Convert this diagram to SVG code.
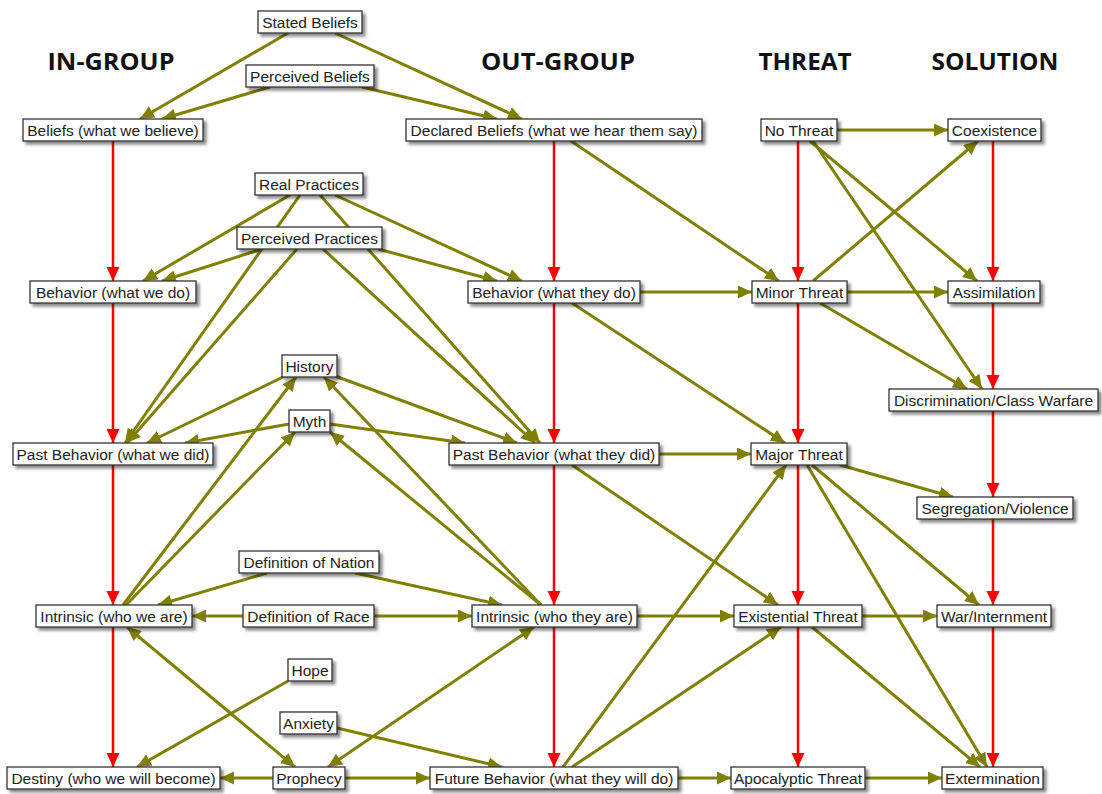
<svg xmlns="http://www.w3.org/2000/svg" width="1102" height="794" viewBox="0 0 1102 794">
<style>
.hdr{font-family:"Open Sans","Liberation Sans",Arial,sans-serif;font-weight:bold;font-size:23px;fill:#111;text-anchor:middle}
.box{fill:#fff;stroke:#333;stroke-width:1.3;filter:url(#sh)}
.lbl{font-family:"Liberation Sans",Arial,sans-serif;font-size:15.5px;fill:#222;text-anchor:middle}
.o{stroke:#808000;stroke-width:3;fill:none;marker-end:url(#ao)}
.ob{stroke:#808000;stroke-width:3;fill:none;marker-end:url(#ao);marker-start:url(#aos)}
.r{stroke:#ff0000;stroke-width:2.5;fill:none;marker-end:url(#ar)}
</style>
<defs>
<filter id="sh" x="-20%" y="-40%" width="140%" height="200%">
<feDropShadow dx="3" dy="3" stdDeviation="1.8" flood-color="#000" flood-opacity="0.45"/>
</filter>
<marker id="ao" markerUnits="userSpaceOnUse" markerWidth="16" markerHeight="14" refX="14" refY="6.5" orient="auto">
<path d="M0,0 L14,6.5 L0,13 z" fill="#808000"/>
</marker>
<marker id="aos" markerUnits="userSpaceOnUse" markerWidth="16" markerHeight="14" refX="0" refY="6.5" orient="auto">
<path d="M14,0 L0,6.5 L14,13 z" fill="#808000"/>
</marker>
<marker id="ar" markerUnits="userSpaceOnUse" markerWidth="16" markerHeight="14" refX="14" refY="6.5" orient="auto">
<path d="M0,0 L14,6.5 L0,13 z" fill="#ff0000"/>
</marker>
</defs>
<rect width="1102" height="794" fill="#fff"/>

<g id="headers">
<text class="hdr" x="111" y="70" textLength="127" lengthAdjust="spacingAndGlyphs">IN-GROUP</text>
<text class="hdr" x="558" y="70" textLength="154" lengthAdjust="spacingAndGlyphs">OUT-GROUP</text>
<text class="hdr" x="805" y="70" textLength="93" lengthAdjust="spacingAndGlyphs">THREAT</text>
<text class="hdr" x="995" y="70" textLength="127" lengthAdjust="spacingAndGlyphs">SOLUTION</text>
</g>

<g id="connectors">
<line class="r" x1="113" y1="141" x2="113" y2="281"/>
<line class="r" x1="113" y1="303" x2="113" y2="443"/>
<line class="r" x1="113" y1="465" x2="113" y2="605"/>
<line class="r" x1="113" y1="627" x2="113" y2="767"/>
<line class="r" x1="554" y1="141" x2="554" y2="281"/>
<line class="r" x1="554" y1="303" x2="554" y2="443"/>
<line class="r" x1="554" y1="465" x2="554" y2="605"/>
<line class="r" x1="554" y1="627" x2="554" y2="767"/>
<line class="r" x1="798" y1="141" x2="798" y2="281"/>
<line class="r" x1="798" y1="303" x2="798" y2="443"/>
<line class="r" x1="798" y1="465" x2="798" y2="605"/>
<line class="r" x1="798" y1="627" x2="798" y2="767"/>
<line class="r" x1="993" y1="141" x2="993" y2="281"/>
<line class="r" x1="993" y1="303" x2="993" y2="389"/>
<line class="r" x1="993" y1="411" x2="993" y2="497"/>
<line class="r" x1="993" y1="519" x2="993" y2="605"/>
<line class="r" x1="993" y1="627" x2="993" y2="767"/>
<line class="o" x1="288" y1="33" x2="140" y2="119"/>
<line class="o" x1="335" y1="33" x2="522" y2="119"/>
<line class="o" x1="270" y1="87" x2="162" y2="119"/>
<line class="o" x1="362" y1="87" x2="497" y2="119"/>
<line class="o" x1="290" y1="195" x2="143" y2="281"/>
<line class="o" x1="262" y1="249" x2="162" y2="281"/>
<line class="o" x1="335" y1="195" x2="522" y2="281"/>
<line class="o" x1="378" y1="249" x2="497" y2="281"/>
<line class="o" x1="300" y1="195" x2="125" y2="443"/>
<line class="o" x1="297" y1="249" x2="127" y2="443"/>
<line class="o" x1="320" y1="195" x2="540" y2="443"/>
<line class="o" x1="323" y1="249" x2="535" y2="443"/>
<line class="o" x1="285" y1="376" x2="147" y2="443"/>
<line class="o" x1="335" y1="376" x2="517" y2="443"/>
<line class="o" x1="289" y1="424" x2="185" y2="443"/>
<line class="o" x1="330" y1="424" x2="465" y2="443"/>
<line class="o" x1="123" y1="605" x2="296" y2="377"/>
<line class="o" x1="126" y1="605" x2="295" y2="432"/>
<line class="o" x1="541" y1="605" x2="324" y2="377"/>
<line class="o" x1="541" y1="605" x2="330" y2="432"/>
<line class="o" x1="267" y1="573" x2="158" y2="605"/>
<line class="o" x1="355" y1="573" x2="502" y2="605"/>
<line class="o" x1="243" y1="616" x2="192" y2="616"/>
<line class="o" x1="374" y1="616" x2="472" y2="616"/>
<line class="ob" x1="127" y1="627" x2="295" y2="767"/>
<line class="o" x1="288" y1="681" x2="137" y2="767"/>
<line class="o" x1="337" y1="728" x2="502" y2="767"/>
<line class="ob" x1="328" y1="767" x2="534" y2="627"/>
<line class="o" x1="273" y1="778" x2="220" y2="778"/>
<line class="o" x1="345" y1="778" x2="430" y2="778"/>
<line class="o" x1="563" y1="767" x2="786" y2="465"/>
<line class="o" x1="572" y1="767" x2="781" y2="627"/>
<line class="o" x1="678" y1="778" x2="731" y2="778"/>
<line class="o" x1="571" y1="141" x2="779" y2="281"/>
<line class="o" x1="640" y1="292" x2="752" y2="292"/>
<line class="o" x1="572" y1="303" x2="785" y2="443"/>
<line class="o" x1="659" y1="454" x2="751" y2="454"/>
<line class="o" x1="572" y1="465" x2="778" y2="605"/>
<line class="o" x1="637" y1="616" x2="734" y2="616"/>
<line class="o" x1="837" y1="130" x2="948" y2="130"/>
<line class="o" x1="810" y1="141" x2="977" y2="281"/>
<line class="o" x1="813" y1="141" x2="982" y2="389"/>
<line class="o" x1="813" y1="281" x2="978" y2="141"/>
<line class="o" x1="847" y1="292" x2="948" y2="292"/>
<line class="o" x1="820" y1="303" x2="967" y2="389"/>
<line class="o" x1="840" y1="465" x2="953" y2="497"/>
<line class="o" x1="812" y1="465" x2="979" y2="605"/>
<line class="o" x1="807" y1="465" x2="987" y2="767"/>
<line class="o" x1="862" y1="616" x2="937" y2="616"/>
<line class="o" x1="812" y1="627" x2="980" y2="767"/>
<line class="o" x1="865" y1="778" x2="942" y2="778"/>
</g>

<g id="n-stated"><rect class="box" x="258" y="11" width="104" height="22"/><text class="lbl" x="310" y="27.5">Stated Beliefs</text></g>
<g id="n-perceived-beliefs"><rect class="box" x="246" y="65" width="128" height="22"/><text class="lbl" x="310" y="81.5">Perceived Beliefs</text></g>
<g id="n-beliefs-we"><rect class="box" x="23" y="119" width="180" height="22"/><text class="lbl" x="113" y="135.5">Beliefs (what we believe)</text></g>
<g id="n-declared"><rect class="box" x="406" y="119" width="296" height="22"/><text class="lbl" x="554" y="135.5">Declared Beliefs (what we hear them say)</text></g>
<g id="n-no-threat"><rect class="box" x="761" y="119" width="76" height="22"/><text class="lbl" x="799" y="135.5">No Threat</text></g>
<g id="n-coexistence"><rect class="box" x="948" y="119" width="93" height="22"/><text class="lbl" x="994.5" y="135.5">Coexistence</text></g>
<g id="n-real-practices"><rect class="box" x="255" y="173" width="108" height="22"/><text class="lbl" x="309" y="189.5">Real Practices</text></g>
<g id="n-perceived-practices"><rect class="box" x="237" y="227" width="145" height="22"/><text class="lbl" x="309.5" y="243.5">Perceived Practices</text></g>
<g id="n-behavior-we"><rect class="box" x="30" y="281" width="166" height="22"/><text class="lbl" x="113" y="297.5">Behavior (what we do)</text></g>
<g id="n-behavior-they"><rect class="box" x="468" y="281" width="172" height="22"/><text class="lbl" x="554" y="297.5">Behavior (what they do)</text></g>
<g id="n-minor"><rect class="box" x="752" y="281" width="95" height="22"/><text class="lbl" x="799.5" y="297.5">Minor Threat</text></g>
<g id="n-assimilation"><rect class="box" x="948" y="281" width="92" height="22"/><text class="lbl" x="994" y="297.5">Assimilation</text></g>
<g id="n-history"><rect class="box" x="282" y="355" width="55" height="22"/><text class="lbl" x="309.5" y="371.5">History</text></g>
<g id="n-discrimination"><rect class="box" x="889" y="389" width="209" height="22"/><text class="lbl" x="993.5" y="405.5">Discrimination/Class Warfare</text></g>
<g id="n-myth"><rect class="box" x="289" y="410" width="41" height="22"/><text class="lbl" x="309.5" y="426.5">Myth</text></g>
<g id="n-past-we"><rect class="box" x="13" y="443" width="200" height="22"/><text class="lbl" x="113" y="459.5">Past Behavior (what we did)</text></g>
<g id="n-past-they"><rect class="box" x="449" y="443" width="210" height="22"/><text class="lbl" x="554" y="459.5">Past Behavior (what they did)</text></g>
<g id="n-major"><rect class="box" x="751" y="443" width="96" height="22"/><text class="lbl" x="799" y="459.5">Major Threat</text></g>
<g id="n-segregation"><rect class="box" x="917" y="497" width="156" height="22"/><text class="lbl" x="995" y="513.5">Segregation/Violence</text></g>
<g id="n-def-nation"><rect class="box" x="239" y="551" width="140" height="22"/><text class="lbl" x="309" y="567.5">Definition of Nation</text></g>
<g id="n-intrinsic-we"><rect class="box" x="36" y="605" width="156" height="22"/><text class="lbl" x="114" y="621.5">Intrinsic (who we are)</text></g>
<g id="n-def-race"><rect class="box" x="243" y="605" width="131" height="22"/><text class="lbl" x="308.5" y="621.5">Definition of Race</text></g>
<g id="n-intrinsic-they"><rect class="box" x="472" y="605" width="165" height="22"/><text class="lbl" x="554.5" y="621.5">Intrinsic (who they are)</text></g>
<g id="n-existential"><rect class="box" x="734" y="605" width="128" height="22"/><text class="lbl" x="798" y="621.5">Existential Threat</text></g>
<g id="n-war"><rect class="box" x="937" y="605" width="114" height="22"/><text class="lbl" x="994" y="621.5">War/Internment</text></g>
<g id="n-hope"><rect class="box" x="288" y="659" width="44" height="22"/><text class="lbl" x="310" y="675.5">Hope</text></g>
<g id="n-anxiety"><rect class="box" x="280" y="712" width="57" height="22"/><text class="lbl" x="308.5" y="728.5">Anxiety</text></g>
<g id="n-destiny"><rect class="box" x="7" y="767" width="213" height="22"/><text class="lbl" x="113.5" y="783.5">Destiny (who we will become)</text></g>
<g id="n-prophecy"><rect class="box" x="273" y="767" width="72" height="22"/><text class="lbl" x="309" y="783.5">Prophecy</text></g>
<g id="n-future"><rect class="box" x="430" y="767" width="248" height="22"/><text class="lbl" x="554" y="783.5">Future Behavior (what they will do)</text></g>
<g id="n-apocalyptic"><rect class="box" x="731" y="767" width="134" height="22"/><text class="lbl" x="798" y="783.5">Apocalyptic Threat</text></g>
<g id="n-extermination"><rect class="box" x="942" y="767" width="101" height="22"/><text class="lbl" x="992.5" y="783.5">Extermination</text></g>
</svg>
